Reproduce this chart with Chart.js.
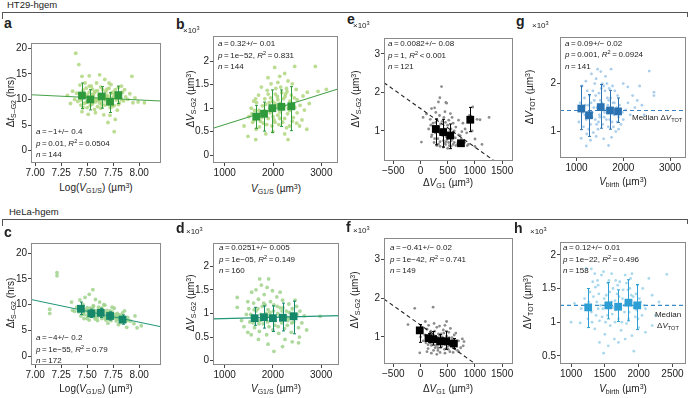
<!DOCTYPE html>
<html>
<head>
<meta charset="utf-8">
<script src="https://cdn.jsdelivr.net/npm/chart.js@4.4.0/dist/chart.umd.min.js"></script>
<style>
body { margin: 0; background: #fff; }
#fig { position: relative; width: 689px; height: 398px; overflow: hidden; font-family: "Liberation Sans", Arial, sans-serif; color: #222; }
#fig canvas { position: absolute; }
.t { position: absolute; white-space: nowrap; line-height: 1; transform: translateY(-50%); }
.c { transform: translate(-50%, -50%); }
.r { transform: translate(-50%, -50%) rotate(-90deg); }
.st { font-size: 8px; }
.ax { font-size: 10px; }
.lab { font-size: 14px; font-weight: bold; }
.exp { font-size: 8px; }
.hd { font-size: 9.5px; }
sub { font-size: 70%; vertical-align: -0.3em; line-height: 0; }
sup { font-size: 70%; vertical-align: 0.45em; line-height: 0; }
.hl { position: absolute; border-color: #555; border-style: solid; border-width: 0; }
</style>
</head>
<body>
<div id="fig"></div>
<script>
// ---------- panel a : HT29, dt vs log V ----------
var aPtsX = [7.39, 7.42, 7.45, 7.52, 7.62, 7.93, 7.54, 7.59, 7.67, 7.71, 7.83, 7.86, 7.31, 7.38, 7.89, 7.94, 7.99, 8.05, 7.70, 7.72, 7.77, 7.76, 7.57, 7.51,
  7.40, 7.41, 7.43, 7.44, 7.46, 7.47, 7.48, 7.49, 7.50, 7.50, 7.51, 7.52, 7.53, 7.54, 7.55, 7.55, 7.56, 7.57, 7.58, 7.59, 7.60, 7.60, 7.61, 7.62, 7.63, 7.63,
  7.64, 7.65, 7.66, 7.67, 7.68, 7.68, 7.69, 7.70, 7.71, 7.72, 7.73, 7.74, 7.75, 7.76, 7.77, 7.78, 7.79, 7.80, 7.81, 7.82, 7.84, 7.85, 7.87, 7.36, 7.34, 7.45,
  7.58, 7.66, 7.79, 7.48, 7.73, 7.91, 7.96,
  7.44, 7.47, 7.49, 7.53, 7.56, 7.58, 7.61, 7.64, 7.67, 7.69, 7.72, 7.75, 7.78, 7.80, 7.83, 7.46, 7.52, 7.57, 7.62, 7.68, 7.74, 7.79, 7.55, 7.65, 7.71,
  7.43, 7.60, 7.76, 7.50, 7.70];
var aPtsY = [19.0, 16.8, 14.5, 14.6, 14.8, 14.5, 12.6, 13.2, 13.9, 13.2, 12.6, 11.9, 10.8, 10.0, 10.0, 9.35, 9.5, 9.35, 5.5, 6.9, 6.1, 3.7, 8.05, 7.1,
  11.2, 9.6, 10.3, 8.9, 11.8, 9.2, 10.6, 12.2, 8.4, 10.9, 9.8, 11.4, 8.8, 10.2, 12.0, 9.1, 10.7, 11.3, 9.5, 10.1, 8.6, 11.7, 9.9, 10.5, 12.4, 8.3,
  9.4, 11.0, 10.3, 8.9, 9.7, 11.5, 10.8, 9.1, 10.0, 8.4, 11.2, 9.6, 10.4, 8.8, 11.9, 9.9, 10.6, 12.3, 9.3, 10.9, 11.4, 9.7, 10.5, 11.6, 9.2, 7.6,
  7.4, 7.0, 7.9, 13.2, 12.9, 11.1, 10.3,
  9.9, 10.8, 9.4, 10.4, 9.7, 11.6, 10.9, 9.0, 10.6, 12.0, 9.8, 11.4, 10.2, 9.0, 10.0, 8.4, 12.6, 10.0, 9.3, 10.2, 8.6, 11.1, 11.0, 11.9, 12.2,
  12.8, 9.8, 10.9, 9.5, 10.6];
var aMeanX = [7.45, 7.53, 7.64, 7.72, 7.80];
var aMeanY = [10.76, 9.99, 10.57, 9.55, 10.84];
var aErrLo = [8.2, 7.95, 8.3, 7.45, 9.2];
var aErrHi = [13.2, 11.9, 12.5, 11.3, 12.6];
var aFitX = [6.96, 8.21];
var aFitY = [10.9, 9.68];
var aXTicks = [7.00, 7.25, 7.50, 7.75, 8.00];
var aYTicks = [0, 5, 10, 15, 20];

// ---------- panel b : HT29, dV vs V ----------
var bPtsX = [2876, 2035, 2449, 2242, 2139, 1896, 2311, 1482, 1642, 2000, 2311, 2242, 2621, 2710, 2932, 3104, 1960, 2100, 2280, 2400, 2500, 2600, 2550, 2200,
  1400, 1500, 1550, 1600, 1650, 1700, 1750, 1800, 1850, 1900, 1950, 2000, 2050, 2100, 2150, 2200, 2250, 2300, 2350, 2400, 2450, 2500, 1580, 1680, 1780,
  1880, 1980, 2080, 2180, 2280, 2380, 2480, 2560, 2650, 2750, 1720, 1820, 1920, 2020, 2120, 2220, 2320, 2420, 1620, 1760, 2060, 2160, 2260, 1850, 2700,
  1560, 1610, 1660, 1710, 1770, 1830, 1870, 1930, 1990, 2040, 2090, 2140, 2190, 2240, 2290, 2340, 2390, 2440, 2490, 1640, 1740, 1840, 1940, 2040,
  2140, 2240, 2340, 1900, 2000, 2100];
var bPtsY = [1.89, 1.87, 1.89, 1.74, 1.68, 1.65, 1.58, 0.40, 0.33, 0.50, 0.33, 0.45, 1.26, 1.34, 1.36, 1.40, 1.52, 1.55, 1.42, 1.52, 1.18, 0.75, 0.62, 0.70,
  0.62, 0.82, 1.00, 1.15, 0.55, 1.28, 0.92, 0.68, 1.08, 0.78, 1.22, 0.95, 1.30, 0.85, 1.10, 0.98, 1.25, 0.88, 1.15, 0.72, 1.02, 0.90, 0.70, 0.85, 1.05,
  1.38, 0.62, 1.05, 1.33, 0.58, 1.28, 1.40, 1.06, 0.96, 1.10, 0.60, 0.95, 1.12, 0.75, 0.65, 1.20, 1.00, 0.80, 0.95, 1.45, 1.42, 1.45, 1.30, 0.45, 0.55,
  0.88, 0.75, 1.12, 0.95, 0.80, 1.20, 0.65, 1.00, 1.15, 0.70, 1.25, 0.92, 1.05, 0.78, 1.35, 0.95, 1.10, 1.22, 0.68, 1.20, 0.72, 0.85, 0.90, 1.10,
  0.78, 1.05, 0.62, 1.30, 0.82, 1.18];
var bMeanX = [1654, 1814, 1986, 2172, 2379];
var bMeanY = [0.82, 0.88, 1.00, 1.03, 1.04];
var bErrLo = [0.57, 0.51, 0.48, 0.61, 0.52];
var bErrHi = [1.06, 1.13, 1.39, 1.39, 1.46];
var bFitX = [758, 3345];
var bFitY = [0.57, 1.41];
var bXTicks = [1000, 2000, 3000];
var bYTicks = [0, 0.5, 1, 1.5, 2];

// ---------- panel e : HT29, dV S-G2 vs dV G1 ----------
var ePtsX = [387, 356, 467, 480, 203, 282, 110, 48, 18, 1260, 1094, 1002, 960, 930, 1040, 1130,
  150, 200, 230, 250, 270, 300, 320, 340, 360, 380, 400, 420, 440, 460, 480, 500, 520, 540, 560, 580, 600, 620, 650, 680, 700, 720, 750, 780, 810, 850, 880,
  300, 350, 450, 550, 420, 500, 260, 330, 180, 600, 650, 700, 900, 950, 1000, 210, 370, 470, 620, 240, 530, 760, 820, 860,
  190, 260, 310, 390, 410, 460, 490, 510, 570, 610, 640, 690, 730, 280, 360, 440, 520, 600, 330, 430, 530, 350, 250, 560, 470];
var ePtsY = [2.15, 1.86, 1.74, 1.72, 1.58, 1.48, 1.44, 1.35, 0.71, 1.35, 1.29, 0.79, 1.62, 1.38, 1.30, 0.65,
  1.05, 0.85, 1.20, 0.70, 0.95, 1.30, 0.80, 1.10, 0.60, 0.90, 1.25, 0.75, 1.05, 0.65, 0.95, 1.15, 0.70, 1.00, 0.60, 1.35, 0.85, 0.70, 1.10, 0.65, 0.90, 0.62, 0.80, 1.20, 0.70, 0.95, 0.65,
  0.62, 1.40, 1.50, 1.45, 0.58, 0.55, 1.60, 1.75, 1.30, 1.20, 0.62, 1.28, 1.40, 1.00, 0.60, 0.90, 1.18, 0.85, 1.00, 1.10, 0.88, 0.98, 1.05, 0.62,
  1.15, 0.80, 0.98, 1.02, 0.88, 1.22, 0.78, 0.92, 0.75, 0.95, 0.82, 0.70, 0.88, 1.22, 0.72, 0.68, 1.28, 0.65, 0.66, 1.35, 0.62, 0.95, 0.98, 1.05, 0.72];
var eMeanX = [282, 417, 546, 744, 915];
var eMeanY = [1.05, 0.97, 0.88, 0.68, 1.29];
var eErrLo = [0.64, 0.58, 0.54, 0.62, 0.98];
var eErrHi = [1.31, 1.30, 1.18, 0.75, 1.61];
var eFitX = [-670, 1360];
var eFitY = [2.25, 0.22];
var eXTicks = [-500, 0, 500, 1000, 1500];
var eYTicks = [1, 2, 3];

// ---------- panel g : HT29, dV total vs V birth ----------
var gPtsX = [2556, 2656, 2656, 2097, 1209, 1686, 1100,
  1050, 1080, 1120, 1150, 1180, 1200, 1220, 1250, 1280, 1300, 1320, 1340, 1360, 1380, 1400, 1420, 1440, 1460, 1480, 1500, 1520, 1540, 1560, 1580, 1600,
  1620, 1640, 1660, 1680, 1700, 1720, 1740, 1760, 1780, 1800, 1820, 1840, 1860, 1880, 1900, 1920, 1950, 1980, 2000, 2050, 2100, 2150, 2200, 2250, 2300,
  2350, 2400, 2450, 1230, 1350, 1450, 1550, 1650, 1300, 1420, 1580, 1750, 1150, 1900, 2000,
  1130, 1170, 1210, 1260, 1310, 1370, 1410, 1470, 1510, 1570, 1610, 1670, 1710, 1770, 1810, 1870, 1910, 1240, 1330, 1430, 1530, 1630, 1730, 1830,
  1190, 1390, 1590, 1790, 1490, 1690];
var gPtsY = [2.26, 1.82, 1.75, 1.93, 0.70, 0.71, 0.86,
  1.20, 1.60, 1.95, 1.10, 1.35, 2.05, 0.95, 1.55, 1.75, 1.15, 2.20, 1.40, 0.98, 1.65, 1.25, 2.10, 1.50, 1.05, 1.80, 1.30, 2.25, 1.60, 1.15, 1.95, 1.40,
  2.15, 1.25, 1.70, 1.10, 1.90, 1.45, 2.30, 1.20, 1.60, 1.35, 1.85, 1.00, 1.50, 1.75, 1.30, 1.55, 1.15, 1.40, 2.00, 1.45, 1.60, 1.35, 1.75, 1.50, 1.65,
  1.95, 1.55, 1.35, 1.85, 1.85, 2.30, 2.00, 2.00, 0.82, 0.90, 0.85, 0.88, 1.50, 1.05, 1.25,
  1.40, 1.70, 1.25, 1.05, 1.60, 1.50, 1.75, 1.20, 1.65, 1.45, 1.85, 1.55, 1.25, 1.95, 1.60, 1.20, 1.45, 1.40, 1.30, 1.15, 1.90, 1.45, 1.70, 1.40,
  1.55, 2.00, 1.30, 1.10, 1.35, 1.65];
var gMeanX = [1103, 1267, 1518, 1717, 1888];
var gMeanY = [1.48, 1.34, 1.51, 1.44, 1.42];
var gErrLo = [1.04, 0.90, 1.07, 1.05, 1.19];
var gErrHi = [1.95, 1.77, 1.98, 1.86, 1.70];
var gMedX = [647, 3342];
var gMedY = [1.44, 1.44];
var gXTicks = [1000, 2000, 3000];
var gYTicks = [1, 2];

// ---------- panel c : HeLa, dt vs log V ----------
var cPtsX = [7.21, 7.21, 7.14, 7.14, 7.555, 8.02, 7.35, 7.38, 7.43, 7.48, 7.52, 7.58, 7.62, 7.67, 7.76, 7.86, 7.90, 7.95, 7.88, 7.80, 7.70, 7.60, 7.50,
  7.42, 7.45, 7.47, 7.49, 7.51, 7.53, 7.55, 7.57, 7.58, 7.60, 7.61, 7.63, 7.64, 7.65, 7.66, 7.68, 7.69, 7.70, 7.71, 7.72, 7.73, 7.74, 7.75, 7.77, 7.78,
  7.79, 7.81, 7.82, 7.83, 7.85, 7.87, 7.89, 7.92, 7.46, 7.56, 7.66, 7.74, 7.54, 7.62, 7.70, 7.78, 7.52, 7.40, 7.36, 7.44, 7.84, 7.96, 7.98,
  7.43, 7.46, 7.48, 7.50, 7.53, 7.55, 7.57, 7.59, 7.61, 7.63, 7.65, 7.67, 7.69, 7.71, 7.73, 7.75, 7.77, 7.79, 7.81, 7.83, 7.85, 7.88, 7.50, 7.58,
  7.64, 7.72, 7.80, 7.47, 7.56, 7.68];
var cPtsY = [16.2, 15.6, 9.1, 8.3, 12.9, 5.9, 10.5, 8.7, 10.9, 11.4, 12.0, 11.0, 10.5, 9.9, 9.3, 8.8, 6.9, 6.3, 5.6, 6.1, 6.4, 6.9, 7.3,
  8.6, 9.4, 8.1, 9.0, 8.5, 7.8, 9.2, 8.0, 8.8, 7.6, 9.5, 8.2, 7.3, 9.0, 8.5, 7.7, 8.9, 7.2, 8.3, 7.9, 6.9, 8.6, 7.4, 8.1, 6.8,
  7.6, 8.0, 6.5, 7.3, 7.0, 6.7, 7.5, 6.8, 10.0, 9.8, 10.0, 9.5, 8.3, 8.7, 8.0, 7.2, 7.0, 9.5, 8.9, 7.8, 8.4, 7.8, 5.5,
  9.0, 8.2, 8.8, 7.9, 9.3, 8.6, 7.5, 8.3, 9.0, 7.9, 8.7, 7.4, 8.4, 7.7, 8.2, 8.0, 7.5, 8.3, 7.1, 7.8, 7.4, 7.0, 9.4, 7.2,
  9.3, 8.8, 7.7, 7.3, 9.6, 7.0];
var cMeanX = [7.44, 7.54, 7.63, 7.72, 7.84];
var cMeanY = [9.2, 8.3, 8.4, 7.8, 7.1];
var cErrLo = [8.1, 7.5, 7.5, 7.0, 6.2];
var cErrHi = [10.5, 9.1, 9.3, 8.6, 8.0];
var cFitX = [6.96, 8.21];
var cFitY = [11.0, 5.7];
var cXTicks = [7.00, 7.25, 7.50, 7.75, 8.00];
var cYTicks = [0, 5, 10, 15, 20];

// ---------- panel d : HeLa, dV vs V ----------
var dPtsX = [1725, 1911, 1261, 1261, 2979, 2021, 2532,
  1350, 1400, 1450, 1480, 1500, 1520, 1550, 1580, 1600, 1620, 1650, 1680, 1700, 1720, 1750, 1780, 1800, 1820, 1850, 1870, 1900, 1920, 1950, 1970, 2000,
  2020, 2050, 2080, 2100, 2120, 2150, 2180, 2200, 2230, 2250, 2280, 2300, 2330, 2350, 2380, 2400, 2430, 2460, 2500, 2530, 2560, 2600, 2650,
  1560, 1650, 1760, 1880, 1990, 2150, 2400, 2550, 2200, 1900, 1700, 2700, 1480,
  1540, 1590, 1640, 1690, 1740, 1790, 1840, 1890, 1940, 1990, 2040, 2090, 2140, 2190, 2240, 2290, 2340, 2390, 2440, 2490, 1610, 1710, 1810, 1910,
  2010, 2110, 2210, 2310, 2410, 1860];
var dPtsY = [1.73, 1.73, 1.34, 1.13, 0.94, 0.20, 0.38,
  0.85, 0.72, 0.98, 0.60, 1.10, 0.82, 0.55, 0.95, 1.22, 0.70, 1.05, 0.85, 1.30, 0.62, 0.98, 1.15, 0.78, 1.40, 0.90, 0.55, 1.08, 0.72, 1.25, 0.95, 0.65,
  1.18, 0.85, 1.35, 1.00, 0.58, 1.12, 0.80, 1.28, 0.95, 0.45, 1.05, 0.75, 1.20, 0.90, 0.60, 1.10, 0.82, 1.28, 0.98, 0.70, 1.05, 0.80, 0.95,
  1.45, 1.50, 1.60, 1.55, 1.48, 1.45, 0.40, 0.50, 0.30, 0.35, 0.45, 0.65, 1.25,
  0.98, 0.80, 0.92, 1.10, 0.85, 0.96, 1.18, 0.82, 1.02, 0.88, 0.75, 1.15, 0.95, 1.05, 0.68, 0.92, 1.02, 0.80, 0.95, 1.15, 1.08, 0.78, 1.22, 0.95,
  1.05, 0.72, 1.12, 0.85, 1.00, 1.00];
var dMeanX = [1621, 1814, 2000, 2207, 2429];
var dMeanY = [0.90, 0.92, 0.90, 0.91, 0.94];
var dErrLo = [0.75, 0.69, 0.62, 0.63, 0.57];
var dErrHi = [1.13, 1.16, 1.16, 1.22, 1.26];
var dFitX = [758, 3370];
var dFitY = [0.885, 0.955];
var dXTicks = [1000, 2000, 3000];
var dYTicks = [0, 0.5, 1, 1.5, 2];

// ---------- panel f : HeLa, dV S-G2 vs dV G1 ----------
var fPtsX = [-105, 232, -229, -13, 786,
  80, 100, 120, 140, 160, 180, 200, 220, 240, 260, 280, 300, 320, 340, 360, 380, 400, 420, 440, 460, 480, 500, 520, 540, 560, 580, 600, 620, 650, 680,
  700, 740, 770, 800, 150, 250, 350, 450, 550, 120, 300, 450, 600, 50, 0, 650, 200, 380, 520, 280, 430, 700, 20, -50, 90, 330, 480, 180,
  110, 170, 210, 250, 290, 330, 370, 410, 450, 490, 530, 570, 610, 140, 230, 310, 390, 470, 550, 630, 190, 270, 350, 430, 510, 590, 160, 240, 320, 400];
var fPtsY = [1.74, 1.77, 1.32, 0.59, 0.77,
  1.05, 0.85, 1.20, 0.70, 0.95, 1.10, 0.78, 1.00, 0.65, 1.15, 0.88, 1.25, 0.72, 0.98, 0.60, 1.08, 0.82, 1.18, 0.68, 0.92, 1.02, 0.75, 1.12, 0.62, 0.88, 0.98, 0.72, 1.05, 0.80, 0.65,
  0.90, 0.72, 0.95, 0.88, 1.30, 1.35, 1.28, 1.30, 1.22, 0.62, 0.55, 0.58, 0.60, 0.90, 1.00, 1.10, 0.58, 0.90, 0.85, 1.02, 0.95, 0.62, 1.25, 1.20, 1.40, 0.80, 1.40, 0.85,
  0.92, 1.02, 0.88, 0.96, 0.78, 1.08, 0.85, 0.95, 0.80, 0.88, 0.98, 0.82, 0.92, 0.80, 0.86, 0.94, 0.75, 0.70, 0.78, 0.85, 1.15, 0.72, 1.05, 1.10, 0.68, 0.92, 0.98, 1.05, 0.65, 1.00];
var fMeanX = [-13, 148, 232, 362, 472, 614];
var fMeanY = [1.17, 0.97, 0.94, 0.89, 0.89, 0.83];
var fErrLo = [0.86, 0.86, 0.79, 0.72, 0.68, 0.70];
var fErrHi = [1.32, 1.09, 1.14, 1.06, 1.15, 0.96];
var fFitX = [-670, 1010];
var fFitY = [1.98, 0.30];
var fXTicks = [-500, 0, 500, 1000, 1500];
var fYTicks = [1, 2, 3];

// ---------- panel h : HeLa, dV total vs V birth ----------
var hPtsX = [1224, 1300, 2416, 1134, 1481, 1928, 1000, 1050,
  1250, 1280, 1300, 1320, 1350, 1380, 1400, 1420, 1450, 1470, 1500, 1520, 1540, 1560, 1580, 1600, 1620, 1640, 1660, 1680, 1700, 1720, 1740, 1760, 1780,
  1800, 1820, 1840, 1860, 1880, 1900, 1920, 1950, 1980, 2000, 2030, 2060, 2100, 2150, 2200, 2250, 2300, 1350, 1480, 1600, 1700, 1800, 1900, 2100,
  1150, 1200, 1420, 1550, 1750, 1850, 1950, 2050, 2200, 1650, 1400,
  1260, 1290, 1330, 1370, 1410, 1440, 1490, 1530, 1570, 1610, 1650, 1690, 1730, 1770, 1810, 1850, 1890, 1930, 1970, 2010, 1310, 1390, 1460, 1540,
  1620, 1710, 1790, 1870, 1960, 2080, 1360, 1510, 1660, 1820, 1990];
var hPtsY = [1.80, 1.79, 1.71, 0.99, 0.54, 0.57, 1.00, 1.28,
  1.05, 1.45, 1.15, 1.60, 0.90, 1.30, 1.55, 1.02, 1.70, 1.20, 0.82, 1.40, 1.10, 1.62, 0.95, 1.30, 1.50, 0.75, 1.18, 1.42, 1.05, 1.60, 0.88, 1.35, 1.25,
  1.70, 0.98, 1.48, 1.15, 1.65, 0.80, 1.38, 1.08, 1.55, 0.92, 1.30, 1.50, 1.20, 1.65, 1.40, 1.10, 1.30, 1.72, 1.75, 1.72, 0.70, 0.75, 1.72, 0.85,
  1.20, 1.35, 0.70, 0.65, 1.00, 1.30, 1.20, 1.10, 0.95, 1.00, 1.20,
  1.30, 1.18, 1.38, 1.10, 1.42, 1.25, 1.35, 1.22, 1.45, 1.12, 1.32, 1.55, 1.20, 1.48, 1.28, 1.05, 1.40, 1.22, 1.18, 1.35, 1.00, 1.62, 1.08, 1.58,
  1.22, 1.38, 1.15, 1.50, 1.42, 1.25, 1.52, 1.00, 1.62, 1.58, 1.05];
var hMeanX = [1253, 1551, 1696, 1849, 1979];
var hMeanY = [1.22, 1.25, 1.23, 1.29, 1.25];
var hErrLo = [0.92, 1.05, 1.01, 1.02, 0.89];
var hErrHi = [1.50, 1.59, 1.48, 1.63, 1.56];
var hMedX = [836, 2700];
var hMedY = [1.25, 1.25];
var hXTicks = [1000, 1500, 2000, 2500];
var hYTicks = [0.5, 1, 1.5, 2];

// ---------- drawing ----------
var fig = document.getElementById('fig');
var PADL = 28, PADT = 6, PADR = 6, PADB = 18;
var tickFont = { family: 'Liberation Sans, Arial, sans-serif', size: 10 };

function pts(xs, ys) {
    return xs.map(function (x, i) { return { x: x, y: ys[i] }; });
}

function plain(v) { return String(v); }
function minus(v) { return v < 0 ? '\u2212' + (-v) : String(v); }
function fixed2(v) { return v.toFixed(2); }

// box round the plot area, like matlab "box on"
var framePlugin = {
    id: 'frame',
    afterDatasetsDraw: function (chart) {
        var a = chart.chartArea, c = chart.ctx;
        c.save();
        c.strokeStyle = '#8a8a8a';
        c.lineWidth = 1;
        c.strokeRect(Math.round(a.left) + 0.5, Math.round(a.top) + 0.5,
            Math.round(a.right - a.left) - 1, Math.round(a.bottom - a.top) - 1);
        c.restore();
    }
};

function errPlugin(mx, lo, hi, color) {
    return {
        id: 'errbars',
        beforeDatasetDraw: function (chart, args) {
            if (args.index !== 0) return;
            var xs = chart.scales.x, ys = chart.scales.y, c = chart.ctx;
            c.save();
            c.strokeStyle = color;
            c.lineWidth = 1;
            c.beginPath();
            for (var i = 0; i < mx.length; i++) {
                var px = Math.round(xs.getPixelForValue(mx[i])) + 0.5;
                var y1 = ys.getPixelForValue(lo[i]), y2 = ys.getPixelForValue(hi[i]);
                c.moveTo(px, y1); c.lineTo(px, y2);
                c.moveTo(px - 1.5, y1); c.lineTo(px + 1.5, y1);
                c.moveTo(px - 1.5, y2); c.lineTo(px + 1.5, y2);
            }
            c.stroke();
            c.restore();
        }
    };
}

function axis(range, ticks, fmt, isX) {
    var o = {
        type: 'linear',
        min: range[0],
        max: range[1],
        afterBuildTicks: function (s) { s.ticks = ticks.map(function (v) { return { value: v }; }); },
        ticks: { callback: fmt, font: tickFont, color: '#222', padding: 1, autoSkip: false, maxRotation: 0, minRotation: 0 },
        grid: { drawOnChartArea: false, drawTicks: true, tickLength: 3, color: '#444', lineWidth: 1 },
        border: { display: false }
    };
    if (isX) o.afterFit = function (s) { s.height = PADB; };
    else o.afterFit = function (s) { s.width = PADL; };
    return o;
}

function makePanel(p) {
    var cv = document.createElement('canvas');
    var w = p.box[2] - p.box[0] + PADL + PADR;
    var h = p.box[3] - p.box[1] + PADT + PADB;
    cv.width = w; cv.height = h;
    cv.style.left = (p.box[0] - PADL) + 'px';
    cv.style.top = (p.box[1] - PADT) + 'px';
    fig.appendChild(cv);

    var lineSet = {
        type: 'line', data: pts(p.lineX, p.lineY), borderColor: p.lineColor, borderWidth: 1.1,
        borderDash: p.dash ? [4, 3] : [], pointRadius: 0, showLine: true, fill: false, order: 1
    };

    new Chart(cv, {
        type: 'scatter',
        data: {
            datasets: [
                { data: pts(p.meanX, p.meanY), pointStyle: 'rect', pointRadius: 5.5, backgroundColor: p.meanColor, borderWidth: 0, order: 0 },
                lineSet,
                { data: pts(p.ptsX, p.ptsY), pointRadius: p.ptR, backgroundColor: p.ptColor, borderWidth: 0, order: 2 }
            ]
        },
        options: {
            responsive: false,
            animation: false,
            devicePixelRatio: 1,
            layout: { padding: { top: PADT, right: PADR, left: 0, bottom: 0 } },
            plugins: { legend: { display: false }, tooltip: { enabled: false } },
            scales: {
                x: axis(p.xr, p.xt, p.xf, true),
                y: axis(p.yr, p.yt, p.yf, false)
            }
        },
        plugins: [errPlugin(p.meanX, p.errLo, p.errHi, p.meanColor), framePlugin]
    });
}

var greenPt = 'rgba(176,214,126,0.85)', greenMean = '#2f9a3c', greenLine = '#45a048';
var tealPt = 'rgba(160,210,140,0.85)', tealMean = '#15886c', tealLine = '#22977a';

makePanel({ box: [31, 42, 161, 163], xr: [6.96, 8.21], yr: [-2.4, 21.0], xt: aXTicks, yt: aYTicks, xf: fixed2, yf: plain,
    ptsX: aPtsX, ptsY: aPtsY, meanX: aMeanX, meanY: aMeanY, errLo: aErrLo, errHi: aErrHi, lineX: aFitX, lineY: aFitY,
    ptR: 1.9, ptColor: greenPt, meanColor: greenMean, lineColor: greenLine });
makePanel({ box: [213, 35, 338, 163], xr: [758, 3345], yr: [-0.17, 2.54], xt: bXTicks, yt: bYTicks, xf: plain, yf: plain,
    ptsX: bPtsX, ptsY: bPtsY, meanX: bMeanX, meanY: bMeanY, errLo: bErrLo, errHi: bErrHi, lineX: bFitX, lineY: bFitY,
    ptR: 1.9, ptColor: greenPt, meanColor: greenMean, lineColor: greenLine });
makePanel({ box: [384, 37, 513, 161], xr: [-670, 1700], yr: [0.22, 3.41], xt: eXTicks, yt: eYTicks, xf: minus, yf: plain,
    ptsX: ePtsX, ptsY: ePtsY, meanX: eMeanX, meanY: eMeanY, errLo: eErrLo, errHi: eErrHi, lineX: eFitX, lineY: eFitY, dash: true,
    ptR: 1.4, ptColor: '#8c8c8c', meanColor: '#000', lineColor: '#222' });
makePanel({ box: [560, 36, 686, 158], xr: [647, 3342], yr: [0.45, 2.97], xt: gXTicks, yt: gYTicks, xf: plain, yf: plain,
    ptsX: gPtsX, ptsY: gPtsY, meanX: gMeanX, meanY: gMeanY, errLo: gErrLo, errHi: gErrHi, lineX: gMedX, lineY: gMedY, dash: true,
    ptR: 1.4, ptColor: 'rgba(160,200,232,0.9)', meanColor: '#2a72b2', lineColor: '#3a80c0' });
makePanel({ box: [31, 242, 161, 365], xr: [6.96, 8.21], yr: [-1.73, 21.98], xt: cXTicks, yt: cYTicks, xf: fixed2, yf: plain,
    ptsX: cPtsX, ptsY: cPtsY, meanX: cMeanX, meanY: cMeanY, errLo: cErrLo, errHi: cErrHi, lineX: cFitX, lineY: cFitY,
    ptR: 1.9, ptColor: tealPt, meanColor: tealMean, lineColor: tealLine });
makePanel({ box: [213, 242, 339, 365], xr: [758, 3370], yr: [-0.09, 2.49], xt: dXTicks, yt: dYTicks, xf: plain, yf: plain,
    ptsX: dPtsX, ptsY: dPtsY, meanX: dMeanX, meanY: dMeanY, errLo: dErrLo, errHi: dErrHi, lineX: dFitX, lineY: dFitY,
    ptR: 1.9, ptColor: tealPt, meanColor: tealMean, lineColor: tealLine });
makePanel({ box: [384, 237, 513, 364], xr: [-670, 1700], yr: [0.30, 3.56], xt: fXTicks, yt: fYTicks, xf: minus, yf: plain,
    ptsX: fPtsX, ptsY: fPtsY, meanX: fMeanX, meanY: fMeanY, errLo: fErrLo, errHi: fErrHi, lineX: fFitX, lineY: fFitY, dash: true,
    ptR: 1.4, ptColor: '#8c8c8c', meanColor: '#000', lineColor: '#222' });
makePanel({ box: [560, 241, 686, 364], xr: [836, 2700], yr: [0.38, 2.19], xt: hXTicks, yt: hYTicks, xf: plain, yf: plain,
    ptsX: hPtsX, ptsY: hPtsY, meanX: hMeanX, meanY: hMeanY, errLo: hErrLo, errHi: hErrHi, lineX: hMedX, lineY: hMedY, dash: true,
    ptR: 1.4, ptColor: 'rgba(160,212,234,0.9)', meanColor: '#2d9fd4', lineColor: '#3a8cc8' });

// ---------- text ----------
function txt(html, x, y, cls) {
    var d = document.createElement('div');
    d.className = 't ' + cls;
    d.innerHTML = html;
    d.style.left = x + 'px';
    d.style.top = y + 'px';
    fig.appendChild(d);
}
function hline(x, y, w, h, side) {
    var d = document.createElement('div');
    d.className = 'hl';
    d.style.left = x + 'px'; d.style.top = y + 'px';
    d.style.width = w + 'px'; d.style.height = h + 'px';
    d.style['border' + side + 'Width'] = '1px';
    fig.appendChild(d);
}

// section headers
txt('HT29-hgem', 7, 5, 'hd');
hline(2, 12, 686, 0, 'Top');
hline(2, 12, 0, 7, 'Left');
hline(687, 12, 0, 5, 'Left');
txt('HeLa-hgem', 9, 212, 'hd');
hline(2, 219, 686, 0, 'Top');
hline(2, 219, 0, 7, 'Left');
hline(687, 219, 0, 5, 'Left');

// panel letters and exponents
txt('a', 4, 23, 'lab'); txt('b', 176, 24, 'lab'); txt('e', 347, 19, 'lab'); txt('g', 516, 21, 'lab');
txt('c', 4, 232, 'lab'); txt('d', 176, 228, 'lab'); txt('f', 346, 227, 'lab'); txt('h', 514, 228, 'lab');
txt('\u00d710<sup>3</sup>', 183, 31, 'exp'); txt('\u00d710<sup>3</sup>', 353, 26, 'exp'); txt('\u00d710<sup>3</sup>', 532, 26, 'exp');
txt('\u00d710<sup>3</sup>', 186, 232, 'exp'); txt('\u00d710<sup>3</sup>', 353, 231, 'exp'); txt('\u00d710<sup>3</sup>', 530, 232, 'exp');

// axis titles
var logV = 'Log(<i>V</i><sub>G1/S</sub>) (\u00b5m<sup>3</sup>)';
var vG1S = '<i>V</i><sub>G1/S</sub> (\u00b5m<sup>3</sup>)';
var dVG1 = '\u0394<i>V</i><sub>G1</sub> (\u00b5m<sup>3</sup>)';
var vBirth = '<i>V</i><sub>birth</sub> (\u00b5m<sup>3</sup>)';
var dtSG2 = '\u0394<i>t</i><sub>S\u2013G2</sub> (hrs)';
var dVSG2 = '\u0394<i>V</i><sub>S-G2</sub> (\u00b5m<sup>3</sup>)';
var dVTOT = '\u0394<i>V</i><sub>TOT</sub> (\u00b5m<sup>3</sup>)';

txt(logV, 96, 188, 'ax c'); txt(vG1S, 276, 189, 'ax c'); txt(dVG1, 448, 183, 'ax c'); txt(vBirth, 623, 182, 'ax c');
txt(logV, 96, 389, 'ax c'); txt(vG1S, 276, 389, 'ax c'); txt(dVG1, 448, 389, 'ax c'); txt(vBirth, 623, 389, 'ax c');
txt(dtSG2, 11, 102, 'ax r'); txt(dVSG2, 191, 99, 'ax r'); txt(dVSG2, 356, 99, 'ax r'); txt(dVTOT, 530, 97, 'ax r');
txt(dtSG2, 11, 303, 'ax r'); txt(dVSG2, 191, 303, 'ax r'); txt(dVSG2, 355, 300, 'ax r'); txt(dVTOT, 528, 302, 'ax r');

// fit statistics
function stats(x, y, a, p, r, n) {
    var eq = '\u2009=\u2009';
    txt('<i>a</i>' + eq + a, x, y, 'st');
    txt('<i>p</i>' + eq + p + ', <i>R</i><sup>2</sup>' + r, x, y + 11.5, 'st');
    txt('<i>n</i>' + eq + n, x, y + 23, 'st');
}
stats(36, 132, '\u22121+/\u2212 0.4', '0.01', '\u2009=\u20090.0504', '144');
stats(218, 44, '0.32+/\u2212 0.01', '1e\u221252', '\u2009=\u20090.831', '144');
stats(388, 44, '0.0082+/\u2212 0.08', '1', '\u2009<\u20090.001', '121');
stats(565, 43.5, '0.09+/\u2212 0.02', '0.001', '\u2009=\u20090.0924', '141');
stats(36, 338, '\u22124+/\u2212 0.2', '1e\u221255', '\u2009=\u20090.79', '172');
stats(219, 248, '0.0251+/\u2212 0.005', '1e\u221205', '\u2009=\u20090.149', '160');
stats(390, 248, '\u22120.41+/\u2212 0.02', '1e\u221242', '\u2009=\u20090.741', '149');
stats(563, 248, '0.12+/\u2212 0.01', '1e\u221222', '\u2009=\u20090.496', '158');

txt('Median \u0394<i>V</i><sub>TOT</sub>', 632, 118, 'st');
txt('Median', 668, 315, 'st c');
txt('\u0394<i>V</i><sub>TOT</sub>', 668, 326, 'st c');
</script>
</body>
</html>
